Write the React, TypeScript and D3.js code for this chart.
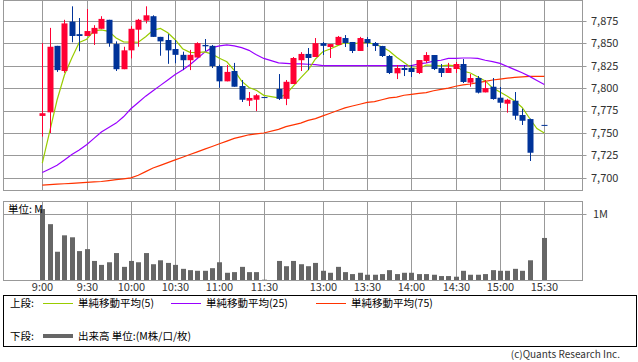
import React, { useRef, useEffect } from 'react';
import * as d3 from 'd3';

const W = 638;
const H = 362;

// 5-minute slots: 9:00-11:30, one empty slot for lunch, 12:30-15:30
const fmt = (m: number) => `${Math.floor(m / 60)}:${String(m % 60).padStart(2, '0')}`;
const slotTimes: string[] = [];
for (let m = 540; m <= 690; m += 5) slotTimes.push(fmt(m));
slotTimes.push('');
for (let m = 750; m <= 930; m += 5) slotTimes.push(fmt(m));

const timeTicks = ['9:00', '9:30', '10:00', '10:30', '11:00', '11:30', '13:00', '13:30', '14:00', '14:30', '15:00', '15:30'];
const priceTicks = [7700, 7725, 7750, 7775, 7800, 7825, 7850, 7875];

const N = null;
const open = [7769, 7773, 7847, 7819, 7874, 7860, 7858, 7860.5, 7866, 7876, 7849, 7821, 7842, 7865, 7875, 7880, 7857, 7853.5, 7843.5, 7837, 7831, 7834, 7848, 7847, 7824.5, 7807.5, 7819, 7802.3, 7786, 7787, 7790, N,
  7799, 7788, 7804.5, 7831, 7838, 7834.6, 7850, 7845.7, 7848, 7855.7, 7851.3, 7841.3, 7854.6, 7850.2, 7846.8, 7835.7, 7816.4, 7822.3, 7822.3, 7816.8, 7830, 7836.8, 7822.3, 7816.8, 7821.2, 7826.8, 7806, 7811.2, 7795.2, 7801.5, 7789.3, 7782.6, 7785.9, 7770, 7765.5, N, 7759];
const high = [7850, 7867, 7847, 7876, 7891, 7878, 7888, 7870, 7880, 7876, 7852, 7846, 7869, 7877, 7891, 7881, 7857, 7860, 7853.5, 7840.5, 7842.5, 7851, 7854.6, 7848, 7826, 7825.7, 7828, 7809, 7795.6, 7793.4, 7790, N,
  7815.6, 7809, 7834.6, 7840, 7844.6, 7855.7, 7851.3, 7849, 7858, 7859, 7851.3, 7857, 7856.8, 7851.3, 7847, 7836.8, 7825.7, 7825.7, 7825.7, 7831.2, 7840, 7836.8, 7826.8, 7828, 7829, 7832.3, 7815.6, 7813.4, 7809, 7811.2, 7801.2, 7788, 7795.6, 7777, 7766, N, 7759];
const low = [7746, 7750, 7818, 7817, 7851, 7841, 7858, 7848, 7866, 7846, 7819, 7821, 7833, 7846, 7872, 7857, 7836, 7827, 7827.6, 7820, 7820, 7834, 7841.3, 7822.3, 7800.4, 7807.5, 7801.5, 7784.5, 7780, 7774.4, 7790, N,
  7786.7, 7781, 7804.5, 7819, 7820, 7834.6, 7836.8, 7833.5, 7848, 7845.7, 7839, 7841.3, 7845.7, 7841.3, 7834.6, 7815.6, 7810, 7813.4, 7812.3, 7815.6, 7828, 7820.1, 7812.3, 7816.8, 7816.8, 7805.6, 7801.5, 7794, 7795.2, 7787, 7777.8, 7772.6, 7764.8, 7758.9, 7718.8, N, 7759];
const close = [7772, 7846, 7820, 7872, 7858, 7858, 7863.5, 7867, 7877, 7850, 7821, 7842, 7866, 7876, 7881, 7857, 7852, 7842, 7837, 7831, 7837, 7850, 7846.5, 7824.5, 7807.5, 7818, 7801.5, 7787, 7789, 7792, 7790, N,
  7788, 7807, 7833.5, 7838, 7833.5, 7850, 7847, 7849, 7857, 7850.2, 7841.3, 7855.7, 7850.2, 7846.8, 7835.7, 7816.8, 7822.3, 7820.1, 7817.9, 7831.2, 7836.8, 7821.2, 7816.8, 7822.3, 7826.8, 7806.8, 7811.2, 7794.9, 7800, 7787.8, 7783.7, 7787, 7769.2, 7763.6, 7728, N, 7759];
// volume in millions
const volume = [1.08, 0.85, 0.43, 0.68, 0.65, 0.44, 0.47, 0.29, 0.23, 0.27, 0.41, 0.2, 0.29, 0.27, 0.41, 0.24, 0.3, 0.26, 0.23, 0.17, 0.15, 0.14, 0.14, 0.18, 0.27, 0.11, 0.12, 0.2, 0.12, 0.12, 0.005, N,
  0.29, 0.21, 0.29, 0.24, 0.21, 0.26, 0.14, 0.11, 0.2, 0.12, 0.09, 0.11, 0.08, 0.08, 0.09, 0.15, 0.09, 0.11, 0.11, 0.09, 0.09, 0.08, 0.06, 0.06, 0.05, 0.14, 0.08, 0.08, 0.09, 0.15, 0.14, 0.14, 0.17, 0.14, 0.3, N, 0.64];
const ma5 = [7716.5, 7751.4, 7786.7, 7814.5, 7833.6, 7850.8, 7854.3, 7863.7, 7864.7, 7863.1, 7855.7, 7851.4, 7851.2, 7851, 7857.2, 7864.4, 7866.4, 7861.6, 7853.8, 7843.8, 7839.8, 7839.4, 7840.3, 7837.8, 7833.1, 7829.3, 7819.6, 7807.7, 7800.6, 7797.5, 7791.9, N,
  7789.2, 7793.2, 7802.1, 7811.3, 7820, 7832.4, 7840.4, 7843.5, 7847.3, 7850.6, 7848.8, 7850.6, 7850.8, 7848.8, 7846, 7841.2, 7834.4, 7828.4, 7822.6, 7821.6, 7825.6, 7825.4, 7824.8, 7825.6, 7824.8, 7818.8, 7816.8, 7812.4, 7808, 7800.2, 7795.6, 7790.8, 7785.6, 7778.4, 7766.4, 7755, 7750];
const ma25 = [7706, 7710, 7714, 7720, 7726, 7731, 7737, 7744, 7751, 7756, 7761, 7768, 7777, 7784, 7791, 7797, 7803, 7809, 7815, 7820, 7826, 7833, 7840, 7845, 7847, 7848, 7847, 7845, 7842, 7837, 7833, N,
  7828, 7827.5, 7827, 7827, 7826.5, 7826, 7825, 7825, 7825, 7825, 7825, 7825, 7825, 7825, 7825, 7825, 7825, 7825, 7825, 7827, 7828, 7830, 7831, 7833, 7833, 7833.5, 7833.5, 7833, 7831, 7829.5, 7827.5, 7824, 7820.5, 7817, 7813, 7808.5, 7804];
const ma75 = [7692, 7692.5, 7693, 7693.5, 7694, 7694.5, 7695, 7695.5, 7696, 7697, 7698, 7699, 7700, 7703, 7707, 7711, 7714, 7717, 7720, 7723, 7726, 7729, 7732, 7735, 7738, 7741, 7744, 7746, 7748, 7749, 7750, N,
  7754, 7757, 7759, 7761, 7764, 7766, 7769, 7772, 7775, 7778, 7780, 7782, 7784, 7785, 7787, 7789, 7790, 7792, 7793, 7794, 7795, 7797, 7798.5, 7800, 7802, 7803.5, 7804.5, 7806, 7807.5, 7809, 7810, 7811, 7812, 7812.5, 7813, 7813, 7813];

const RED = '#ff0033';
const BLUE = '#003399';
const GRID = '#999999';
const FONT = '"Noto Sans CJK JP", "Noto Sans", sans-serif';

const App = () => {
  const ref = useRef<SVGSVGElement>(null);

  useEffect(() => {
    if (!ref.current) return;
    document.body.style.margin = '0';
    const svg = d3.select(ref.current);
    svg.selectAll('*').remove();

    const left = 3.5, right = 582.5;
    const pTop = 0.5, pBottom = 190.5;
    const vTop = 201.5, vBottom = 280.5;

    const x = d3.scalePoint<string>().domain(slotTimes).range([42.3, 544.3]);
    const xi = (i: number) => x(slotTimes[i]) as number;
    const y = d3.scaleLinear().domain([7700, 7875]).range([177.9, 20.7]);
    const yv = d3.scaleLinear().domain([0, 1]).range([280, 214.3]);
    const px = (v: number) => Math.round(v) + 0.5;

    svg.append('rect').attr('width', W).attr('height', H).attr('fill', '#fff');

    // price panel grid
    const g = svg.append('g');
    priceTicks.forEach(t => {
      g.append('line')
        .attr('x1', left).attr('x2', right + 4)
        .attr('y1', px(y(t))).attr('y2', px(y(t)))
        .attr('stroke', GRID);
      g.append('text')
        .attr('x', 591).attr('y', y(t)).attr('dy', '0.36em')
        .attr('font-size', '11px').attr('font-family', FONT).attr('fill', '#333')
        .text(d3.format(',')(t));
    });
    timeTicks.forEach(t => {
      const xx = px(x(t) as number);
      g.append('line').attr('x1', xx).attr('x2', xx).attr('y1', pTop).attr('y2', pBottom).attr('stroke', GRID);
      g.append('line').attr('x1', xx).attr('x2', xx).attr('y1', vTop).attr('y2', vBottom).attr('stroke', GRID);
      g.append('text')
        .attr('x', xx).attr('y', 287).attr('dy', '0.36em').attr('text-anchor', 'middle')
        .attr('font-size', '11px').attr('font-family', FONT).attr('fill', '#333')
        .text(t);
    });
    g.append('rect')
      .attr('x', left).attr('y', pTop).attr('width', right - left).attr('height', pBottom - pTop)
      .attr('fill', 'none').attr('stroke', GRID);

    // volume panel grid
    g.append('line')
      .attr('x1', left).attr('x2', right + 4)
      .attr('y1', px(yv(1))).attr('y2', px(yv(1)))
      .attr('stroke', GRID);
    g.append('text')
      .attr('x', 593).attr('y', yv(1)).attr('dy', '0.36em')
      .attr('font-size', '11px').attr('font-family', FONT).attr('fill', '#333')
      .text('1M');
    g.append('rect')
      .attr('x', left).attr('y', vTop).attr('width', right - left).attr('height', vBottom - vTop)
      .attr('fill', 'none').attr('stroke', GRID);

    // volume bars
    const vol = svg.append('g');
    volume.forEach((v, i) => {
      if (v == null) return;
      const cx = Math.round(xi(i));
      vol.append('rect')
        .attr('x', cx - 2).attr('width', 5)
        .attr('y', yv(v)).attr('height', 280 - yv(v))
        .attr('fill', '#666666');
    });

    svg.append('text')
      .attr('x', 8).attr('y', 213)
      .attr('font-size', '10.5px').attr('font-family', FONT).attr('fill', '#000')
      .text('単位: M');

    // moving averages
    const drawMA = (vals: (number | null)[], color: string) => {
      const pts = vals.map((v, i) => [i, v] as [number, number | null]).filter(d => d[1] != null) as [number, number][];
      const line = d3.line<[number, number]>().x(d => xi(d[0])).y(d => y(d[1]));
      svg.append('path').datum(pts)
        .attr('fill', 'none').attr('stroke', color).attr('stroke-width', 1.2)
        .attr('d', line);
    };
    drawMA(ma75, '#ff3300');
    drawMA(ma25, '#9900ff');
    drawMA(ma5, '#99cc00');

    // candles
    const cg = svg.append('g');
    open.forEach((o, i) => {
      if (o == null) return;
      const c = close[i] as number;
      const color = c > o ? RED : BLUE;
      const cx = Math.round(xi(i));
      cg.append('line')
        .attr('x1', cx + 0.5).attr('x2', cx + 0.5)
        .attr('y1', y(high[i] as number)).attr('y2', y(low[i] as number))
        .attr('stroke', color);
      const y0 = Math.min(y(o), y(c));
      const h = Math.max(1, Math.abs(y(o) - y(c)));
      cg.append('rect')
        .attr('x', cx - 2.5).attr('width', 6)
        .attr('y', y0).attr('height', h)
        .attr('fill', color);
    });

    // legend
    const lg = svg.append('g').attr('font-family', FONT).attr('font-size', '10.5px').attr('fill', '#000');
    lg.append('rect')
      .attr('x', 3.5).attr('y', 295.5).attr('width', 633).attr('height', 51)
      .attr('fill', 'none').attr('stroke', '#000');
    lg.append('text').attr('x', 10).attr('y', 303).attr('dy', '0.36em').text('上段:');
    const items = [
      { x: 43, color: '#99cc00', label: '単純移動平均(5)' },
      { x: 171, color: '#9900ff', label: '単純移動平均(25)' },
      { x: 316, color: '#ff3300', label: '単純移動平均(75)' }
    ];
    items.forEach(it => {
      lg.append('line')
        .attr('x1', it.x).attr('x2', it.x + 30).attr('y1', 303.5).attr('y2', 303.5)
        .attr('stroke', it.color);
      lg.append('text').attr('x', it.x + 35).attr('y', 303).attr('dy', '0.36em').text(it.label);
    });
    lg.append('text').attr('x', 10).attr('y', 336).attr('dy', '0.36em').text('下段:');
    lg.append('line')
      .attr('x1', 43).attr('x2', 73).attr('y1', 336).attr('y2', 336)
      .attr('stroke', '#666666').attr('stroke-width', 4);
    lg.append('text').attr('x', 78).attr('y', 336).attr('dy', '0.36em').text('出来高 単位:(M株/口/枚)');

    svg.append('text')
      .attr('x', 620).attr('y', 354).attr('dy', '0.36em').attr('text-anchor', 'end')
      .attr('font-family', FONT).attr('font-size', '10px').attr('fill', '#333')
      .text('(c)Quants Research Inc.');
  }, []);

  return (
    <svg
      ref={ref}
      width={W}
      height={H}
      style={{ display: 'block', position: 'absolute', left: 0, top: 0 }}
    />
  );
};

export default App;
